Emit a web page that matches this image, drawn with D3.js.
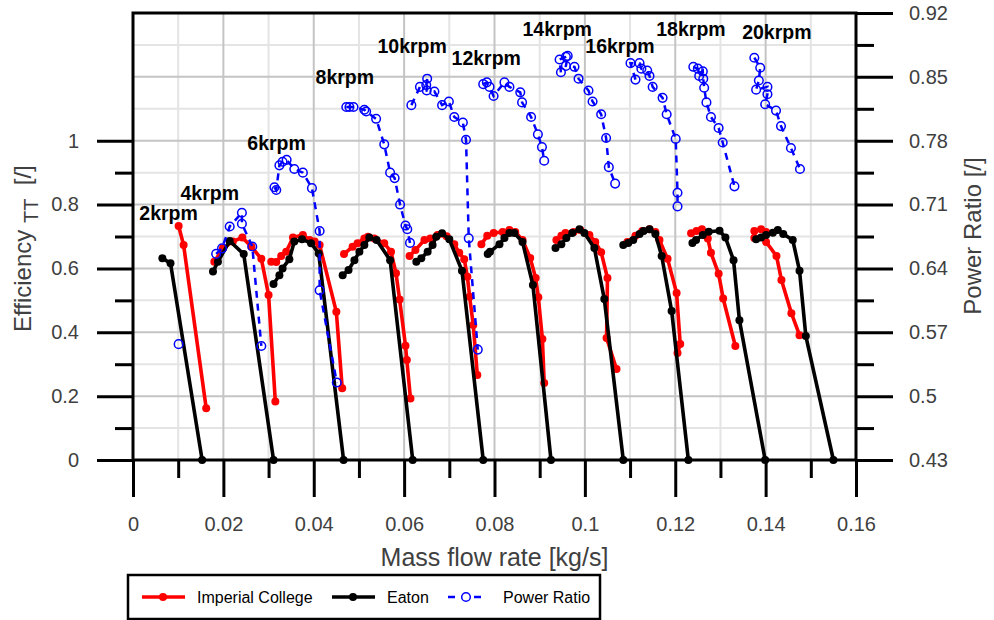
<!DOCTYPE html>
<html>
<head>
<meta charset="utf-8">
<script src="https://d3js.org/d3.v7.min.js"></script>
<style>
  body { margin: 0; background: #fff; }
  svg { font-family: "Liberation Sans", Arial, sans-serif; }
</style>
</head>
<body>
<div id="chart"></div>
<script>
// rotor speeds, one curve of each series per speed
const speeds = ["2krpm", "4krpm", "6krpm", "8krpm", "10krpm", "12krpm", "14krpm", "16krpm", "18krpm", "20krpm"];

// where each speed label sits (mass flow, efficiency)
const labelFlow = [0.0014, 0.0105, 0.0253, 0.0404, 0.0541, 0.0705, 0.0862, 0.1001, 0.1158, 0.1348];
const labelEff = [0.752, 0.814, 0.971, 1.178, 1.275, 1.237, 1.328, 1.275, 1.328, 1.318];

// Imperial College efficiency
const imperialFlow = [
  [0.0101, 0.0112, 0.0162],
  [0.0180, 0.0199, 0.0221, 0.0242, 0.0262, 0.0284, 0.0300, 0.0315],
  [0.0306, 0.0317, 0.0328, 0.0339, 0.0354, 0.0376, 0.0391, 0.0402, 0.0413, 0.0450, 0.0463],
  [0.0467, 0.0486, 0.0497, 0.0512, 0.0520, 0.0534, 0.0556, 0.0571, 0.0582, 0.0590, 0.0603, 0.0606, 0.0614],
  [0.0612, 0.0625, 0.0645, 0.0658, 0.0674, 0.0694, 0.0711, 0.0722, 0.0733, 0.0740, 0.0745, 0.0753, 0.0762],
  [0.0771, 0.0784, 0.0798, 0.0818, 0.0833, 0.0846, 0.0862, 0.0879, 0.0891, 0.0897, 0.0906, 0.0910],
  [0.0937, 0.0948, 0.0957, 0.0975, 0.0990, 0.1010, 0.1023, 0.1036, 0.1050, 0.1048, 0.1070],
  [0.1094, 0.1112, 0.1127, 0.1143, 0.1156, 0.1165, 0.1183, 0.1203, 0.1211, 0.1205],
  [0.1235, 0.1247, 0.1259, 0.1264, 0.1272, 0.1279, 0.1296, 0.1306, 0.1333],
  [0.1375, 0.1375, 0.1390, 0.1401, 0.1401, 0.1424, 0.1435, 0.1457, 0.1475]
];
const imperialEff = [
  [0.733, 0.673, 0.162],
  [0.621, 0.663, 0.684, 0.697, 0.668, 0.630, 0.517, 0.183],
  [0.621, 0.620, 0.639, 0.652, 0.697, 0.705, 0.689, 0.684, 0.673, 0.464, 0.225],
  [0.645, 0.668, 0.679, 0.694, 0.699, 0.694, 0.679, 0.652, 0.585, 0.503, 0.358, 0.313, 0.193],
  [0.639, 0.658, 0.689, 0.694, 0.705, 0.701, 0.676, 0.649, 0.629, 0.574, 0.511, 0.423, 0.266],
  [0.676, 0.702, 0.711, 0.714, 0.720, 0.714, 0.689, 0.633, 0.570, 0.510, 0.379, 0.241],
  [0.689, 0.702, 0.711, 0.714, 0.720, 0.705, 0.683, 0.651, 0.570, 0.382, 0.285],
  [0.683, 0.702, 0.717, 0.723, 0.714, 0.689, 0.630, 0.523, 0.363, 0.335],
  [0.710, 0.717, 0.723, 0.705, 0.694, 0.649, 0.583, 0.506, 0.357],
  [0.695, 0.717, 0.723, 0.714, 0.683, 0.639, 0.564, 0.460, 0.391]
];

// Eaton efficiency
const eatonFlow = [
  [0.0065, 0.0083, 0.0153],
  [0.0177, 0.0188, 0.0214, 0.0245, 0.0311],
  [0.0311, 0.0324, 0.0331, 0.0346, 0.0357, 0.0374, 0.0394, 0.0411, 0.0466],
  [0.0464, 0.0477, 0.0490, 0.0501, 0.0512, 0.0523, 0.0539, 0.0569, 0.0619],
  [0.0627, 0.0638, 0.0652, 0.0663, 0.0671, 0.0684, 0.0700, 0.0728, 0.0775],
  [0.0785, 0.0790, 0.0811, 0.0822, 0.0833, 0.0844, 0.0862, 0.0885, 0.0925],
  [0.0935, 0.0948, 0.0959, 0.0972, 0.0988, 0.0999, 0.1021, 0.1043, 0.1085],
  [0.1085, 0.1096, 0.1107, 0.1121, 0.1130, 0.1143, 0.1156, 0.1170, 0.1192, 0.1229],
  [0.1238, 0.1246, 0.1261, 0.1274, 0.1298, 0.1311, 0.1329, 0.1342, 0.1399],
  [0.1379, 0.1390, 0.1401, 0.1416, 0.1427, 0.1439, 0.1460, 0.1475, 0.1489, 0.1550]
];
const eatonEff = [
  [0.632, 0.616, 0],
  [0.590, 0.621, 0.686, 0.645, 0],
  [0.551, 0.579, 0.600, 0.629, 0.684, 0.691, 0.679, 0.647, 0],
  [0.579, 0.595, 0.626, 0.652, 0.673, 0.697, 0.689, 0.626, 0],
  [0.621, 0.632, 0.652, 0.673, 0.699, 0.710, 0.691, 0.593, 0],
  [0.645, 0.652, 0.676, 0.695, 0.711, 0.711, 0.683, 0.548, 0],
  [0.664, 0.676, 0.695, 0.711, 0.723, 0.711, 0.664, 0.504, 0],
  [0.673, 0.680, 0.689, 0.708, 0.717, 0.723, 0.708, 0.639, 0.467, 0],
  [0.680, 0.689, 0.705, 0.715, 0.718, 0.697, 0.626, 0.438, 0],
  [0.691, 0.697, 0.705, 0.712, 0.720, 0.708, 0.689, 0.593, 0.388, 0]
];

// power ratio (right axis)
const ratioFlow = [
  [0.0101],
  [0.0184, 0.0197, 0.0214, 0.0241, 0.0241, 0.0264, 0.0284],
  [0.0313, 0.0317, 0.0324, 0.0331, 0.0340, 0.0357, 0.0376, 0.0396, 0.0413, 0.0413, 0.0451],
  [0.0472, 0.0479, 0.0488, 0.0512, 0.0516, 0.0538, 0.0556, 0.0569, 0.0579, 0.0591, 0.0603, 0.0607, 0.0613],
  [0.0616, 0.0635, 0.0649, 0.0651, 0.0650, 0.0667, 0.0684, 0.0699, 0.0711, 0.0730, 0.0737, 0.0743, 0.0763],
  [0.0775, 0.0783, 0.0789, 0.0798, 0.0822, 0.0833, 0.0857, 0.0861, 0.0881, 0.0896, 0.0905, 0.0910],
  [0.0947, 0.0944, 0.0958, 0.0962, 0.0958, 0.0977, 0.0986, 0.1008, 0.1017, 0.1036, 0.1047, 0.1053, 0.1067],
  [0.1112, 0.1101, 0.1121, 0.1125, 0.1138, 0.1143, 0.1150, 0.1172, 0.1181, 0.1201, 0.1205, 0.1205],
  [0.1240, 0.1250, 0.1253, 0.1261, 0.1262, 0.1264, 0.1269, 0.1279, 0.1296, 0.1305, 0.1331],
  [0.1375, 0.1388, 0.1385, 0.1379, 0.1404, 0.1404, 0.1399, 0.1423, 0.1434, 0.1456, 0.1476]
];
const ratioValue = [
  [0.557],
  [0.656, 0.662, 0.686, 0.701, 0.689, 0.664, 0.555],
  [0.729, 0.726, 0.753, 0.757, 0.759, 0.749, 0.745, 0.728, 0.681, 0.616, 0.515],
  [0.817, 0.817, 0.817, 0.814, 0.812, 0.804, 0.776, 0.745, 0.739, 0.710, 0.687, 0.683, 0.668],
  [0.819, 0.839, 0.841, 0.848, 0.835, 0.834, 0.819, 0.823, 0.806, 0.800, 0.781, 0.673, 0.551],
  [0.842, 0.844, 0.839, 0.829, 0.844, 0.839, 0.833, 0.822, 0.806, 0.787, 0.773, 0.758],
  [0.855, 0.869, 0.872, 0.873, 0.862, 0.861, 0.848, 0.835, 0.823, 0.809, 0.783, 0.751, 0.733],
  [0.847, 0.865, 0.865, 0.859, 0.857, 0.851, 0.839, 0.827, 0.809, 0.782, 0.723, 0.708],
  [0.861, 0.859, 0.851, 0.856, 0.848, 0.838, 0.822, 0.806, 0.794, 0.778, 0.730],
  [0.871, 0.860, 0.846, 0.836, 0.839, 0.831, 0.820, 0.813, 0.796, 0.772, 0.749]
];

// tick values
const flowTicks = [0, 0.02, 0.04, 0.06, 0.08, 0.1, 0.12, 0.14, 0.16];
const effTicks = [0, 0.2, 0.4, 0.6, 0.8, 1];
const ratioTicks = [0.43, 0.5, 0.57, 0.64, 0.71, 0.78, 0.85, 0.92];

const width = 994, height = 620;
const plotLeft = 133, plotRight = 856, plotTop = 13, plotBottom = 460;

const x = d3.scaleLinear().domain([0, 0.16]).range([plotLeft, plotRight]);
const yEff = d3.scaleLinear().domain([0, 1.4]).range([plotBottom, plotTop]);
const yRatio = d3.scaleLinear().domain([0.43, 0.92]).range([plotBottom, plotTop]);

const svg = d3.select("#chart").append("svg")
  .attr("width", width)
  .attr("height", height);

// gridlines, minor light and major darker
const xMinor = d3.range(1, 16, 2).map(i => i / 100);
const xMajor = d3.range(2, 16, 2).map(i => i / 100);
const yMinor = d3.range(1, 14, 2).map(i => i / 10);
const yMajor = d3.range(2, 14, 2).map(i => i / 10);

const grid = svg.append("g");
grid.selectAll(".gx-minor").data(xMinor).join("line")
  .attr("x1", d => x(d)).attr("x2", d => x(d))
  .attr("y1", plotTop).attr("y2", plotBottom)
  .attr("stroke", "#e4e4e4").attr("stroke-width", 2);
grid.selectAll(".gy-minor").data(yMinor).join("line")
  .attr("x1", plotLeft).attr("x2", plotRight)
  .attr("y1", d => yEff(d)).attr("y2", d => yEff(d))
  .attr("stroke", "#e4e4e4").attr("stroke-width", 2);
grid.selectAll(".gx-major").data(xMajor).join("line")
  .attr("x1", d => x(d)).attr("x2", d => x(d))
  .attr("y1", plotTop).attr("y2", plotBottom)
  .attr("stroke", "#c4c4c4").attr("stroke-width", 2);
grid.selectAll(".gy-major").data(yMajor).join("line")
  .attr("x1", plotLeft).attr("x2", plotRight)
  .attr("y1", d => yEff(d)).attr("y2", d => yEff(d))
  .attr("stroke", "#c4c4c4").attr("stroke-width", 2);

// axes
function styleAxis(g) {
  g.select(".domain").remove();
  g.selectAll(".tick line").attr("stroke", "#000").attr("stroke-width", 3);
  g.selectAll(".tick text").attr("fill", "#404040").style("font-size", "20px");
}

svg.append("g")
  .attr("transform", `translate(0,${plotBottom})`)
  .call(d3.axisBottom(x).tickValues(xMinor).tickSize(18).tickFormat(""))
  .call(styleAxis);
svg.append("g")
  .attr("transform", `translate(0,${plotBottom})`)
  .call(d3.axisBottom(x).tickValues(flowTicks).tickSize(37).tickPadding(20).tickFormat(d3.format("~g")))
  .call(styleAxis);

svg.append("g")
  .attr("transform", `translate(${plotLeft},0)`)
  .call(d3.axisLeft(yEff).tickValues([0.1, 0.3, 0.5, 0.7, 0.9]).tickSize(18).tickFormat(""))
  .call(styleAxis);
svg.append("g")
  .attr("transform", `translate(${plotLeft},0)`)
  .call(d3.axisLeft(yEff).tickValues(effTicks).tickSize(36).tickPadding(18).tickFormat(d3.format("~g")))
  .call(styleAxis);

const ratioMinor = ratioTicks.slice(0, -1).map(d => d + 0.035);
svg.append("g")
  .attr("transform", `translate(${plotRight},0)`)
  .call(d3.axisRight(yRatio).tickValues(ratioMinor).tickSize(18).tickFormat(""))
  .call(styleAxis);
svg.append("g")
  .attr("transform", `translate(${plotRight},0)`)
  .call(d3.axisRight(yRatio).tickValues(ratioTicks).tickSize(37).tickPadding(16).tickFormat(d3.format("~g")))
  .call(styleAxis);

// frame
svg.append("rect")
  .attr("x", plotLeft).attr("y", plotTop)
  .attr("width", plotRight - plotLeft).attr("height", plotBottom - plotTop)
  .attr("fill", "none").attr("stroke", "#000").attr("stroke-width", 3);

// series
const effLine = d3.line().x(d => x(d[0])).y(d => yEff(d[1]));
const ratioLine = d3.line().x(d => x(d[0])).y(d => yRatio(d[1]));

function drawSolid(flows, effs, color) {
  flows.forEach((fl, i) => {
    const pts = fl.map((f, j) => [f, effs[i][j]]);
    const g = svg.append("g");
    g.append("path").datum(pts)
      .attr("d", effLine)
      .attr("fill", "none").attr("stroke", color)
      .attr("stroke-width", 3.6).attr("stroke-linejoin", "round");
    g.selectAll("circle").data(pts).join("circle")
      .attr("cx", d => x(d[0])).attr("cy", d => yEff(d[1]))
      .attr("r", 4).attr("fill", color);
  });
}

drawSolid(imperialFlow, imperialEff, "#ff0000");
drawSolid(eatonFlow, eatonEff, "#000000");

ratioFlow.forEach((fl, i) => {
  const pts = fl.map((f, j) => [f, ratioValue[i][j]]);
  const g = svg.append("g");
  g.append("path").datum(pts)
    .attr("d", ratioLine)
    .attr("fill", "none").attr("stroke", "#0000ff")
    .attr("stroke-width", 2.5).attr("stroke-dasharray", "7,6");
  g.selectAll("circle").data(pts).join("circle")
    .attr("cx", d => x(d[0])).attr("cy", d => yRatio(d[1]))
    .attr("r", 4.3).attr("fill", "none")
    .attr("stroke", "#0000ff").attr("stroke-width", 1.5);
});

// speed labels
svg.append("g").selectAll("text").data(speeds).join("text")
  .attr("x", (d, i) => x(labelFlow[i]))
  .attr("y", (d, i) => yEff(labelEff[i]))
  .attr("fill", "#000")
  .style("font-size", "19.5px").style("font-weight", "bold")
  .text(d => d);

// axis titles
svg.append("text")
  .attr("x", (plotLeft + plotRight) / 2).attr("y", 566)
  .attr("text-anchor", "middle").attr("fill", "#404040")
  .style("font-size", "25px")
  .text("Mass flow rate [kg/s]");

const yTitle = svg.append("text")
  .attr("transform", "translate(31,332) rotate(-90)")
  .attr("text-anchor", "start").attr("fill", "#404040")
  .style("font-size", "24px");
yTitle.append("tspan").text("Efficiency\u00A0");
yTitle.append("tspan").attr("dy", 7).style("font-size", "20px").text("TT");
yTitle.append("tspan").attr("dy", -7).text("\u00A0\u00A0[/]");

svg.append("text")
  .attr("transform", "translate(981,236) rotate(-90)")
  .attr("text-anchor", "middle").attr("fill", "#404040")
  .style("font-size", "24px")
  .text("Power Ratio [/]");

// legend
const legend = svg.append("g");
legend.append("rect")
  .attr("x", 128).attr("y", 575).attr("width", 472).attr("height", 44)
  .attr("fill", "#fff").attr("stroke", "#000").attr("stroke-width", 2.5);

const legendItems = [
  {name: "Imperial College", color: "#ff0000", x0: 142, tx: 197, dashed: false},
  {name: "Eaton", color: "#000000", x0: 332, tx: 387, dashed: false},
  {name: "Power Ratio", color: "#0000ff", x0: 448, tx: 503, dashed: true}
];
legendItems.forEach(it => {
  const ly = 597;
  if (it.dashed) {
    legend.append("line")
      .attr("x1", it.x0).attr("x2", it.x0 + 36).attr("y1", ly).attr("y2", ly)
      .attr("stroke", it.color).attr("stroke-width", 2.5).attr("stroke-dasharray", "7,6");
    legend.append("circle").attr("cx", it.x0 + 18).attr("cy", ly).attr("r", 4.3)
      .attr("fill", "#fff").attr("stroke", it.color).attr("stroke-width", 1.5);
  } else {
    legend.append("line")
      .attr("x1", it.x0).attr("x2", it.x0 + 43).attr("y1", ly).attr("y2", ly)
      .attr("stroke", it.color).attr("stroke-width", 3.5);
    legend.append("circle").attr("cx", it.x0 + 21).attr("cy", ly).attr("r", 4)
      .attr("fill", it.color);
  }
  legend.append("text")
    .attr("x", it.tx).attr("y", ly).attr("dy", "0.35em")
    .attr("fill", "#000").style("font-size", "16px")
    .text(it.name);
});
</script>
</body>
</html>
